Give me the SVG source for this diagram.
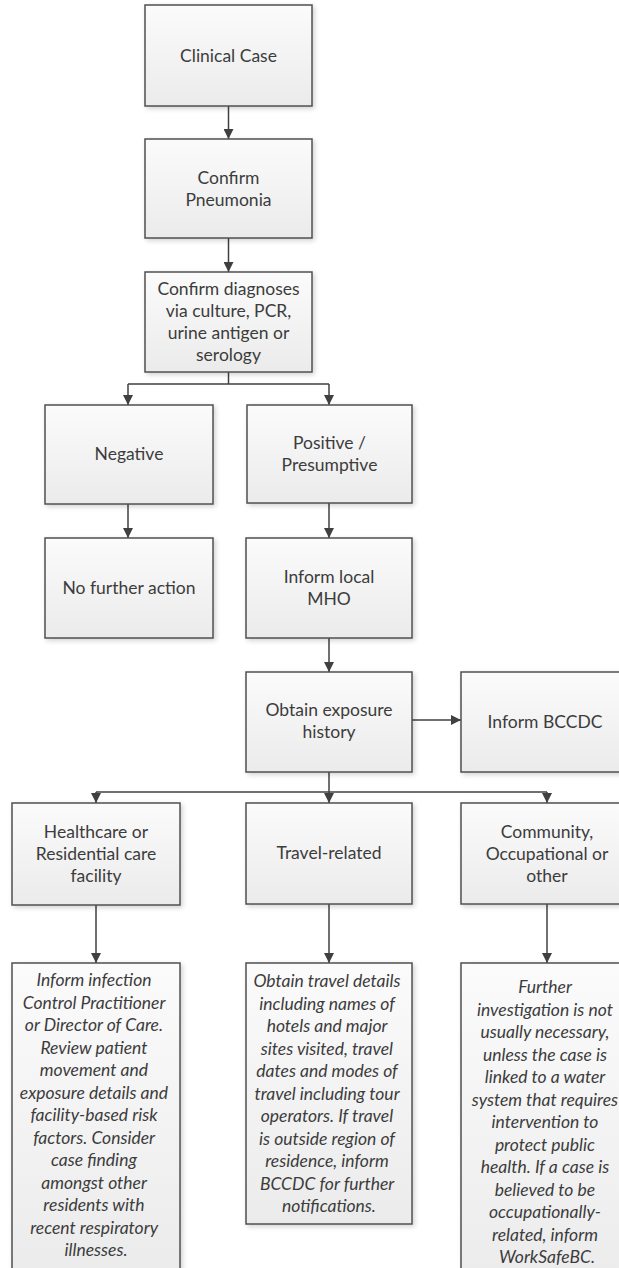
<svg xmlns="http://www.w3.org/2000/svg" width="619" height="1268" viewBox="0 0 619 1268">
<style>
.box{fill:url(#g);stroke:#505050;stroke-width:1.5;filter:url(#sh)}
.t{font-family:Lato,"Liberation Sans",sans-serif;font-size:17.5px;fill:#3c3c3c;text-anchor:middle}
.i{font-style:italic}
.c{fill:none;stroke:#404040;stroke-width:1.5}
.a{fill:none;stroke:#404040;stroke-width:1.5;marker-end:url(#ah)}
</style>
<defs>
<linearGradient id="g" x1="0" y1="0" x2="0" y2="1">
<stop offset="0" stop-color="#fbfbfb"/>
<stop offset="1" stop-color="#ebebeb"/>
</linearGradient>
<filter id="sh" x="-10%" y="-10%" width="125%" height="125%">
<feGaussianBlur in="SourceAlpha" stdDeviation="2.5"/>
<feOffset dx="2" dy="2" result="b"/>
<feComponentTransfer><feFuncA type="linear" slope="0.18"/></feComponentTransfer>
<feMerge><feMergeNode/><feMergeNode in="SourceGraphic"/></feMerge>
</filter>
<marker id="ah" viewBox="0 0 10 10" refX="10" refY="5" markerWidth="10" markerHeight="10" markerUnits="userSpaceOnUse" orient="auto">
<path d="M0,0 L10,5 L0,10 z" fill="#404040"/>
</marker>
</defs>
<rect width="619" height="1268" fill="#ffffff"/>

<g id="connectors">
<path class="a" d="M228.5,106 V139"/>
<path class="a" d="M228.5,238 V272"/>
<path class="c" d="M228.5,372 V384 M128,384 H329"/>
<path class="a" d="M128,384 V405"/>
<path class="a" d="M329,384 V405"/>
<path class="a" d="M128,504 V538"/>
<path class="a" d="M329,503 V538"/>
<path class="a" d="M329,638 V672"/>
<path class="a" d="M412,720 H461"/>
<path class="c" d="M96,792 H547"/>
<path class="a" d="M329,772 V803"/>
<path class="a" d="M96,792 V803"/>
<path class="a" d="M547,792 V803"/>
<path class="a" d="M96,905 V963"/>
<path class="a" d="M329,904 V963"/>
<path class="a" d="M547,904 V963"/>
</g>

<g id="clinical-case">
<rect class="box" x="145" y="5" width="167" height="101"/>
<text class="t" x="228.5" y="62">Clinical Case</text>
</g>
<g id="confirm-pneumonia">
<rect class="box" x="145" y="139" width="167" height="99"/>
<text class="t" x="228.5" y="184">Confirm</text>
<text class="t" x="228.5" y="206">Pneumonia</text>
</g>
<g id="confirm-diagnoses">
<rect class="box" x="145" y="272" width="167" height="100"/>
<text class="t" x="228.5" y="295">Confirm diagnoses</text>
<text class="t" x="228.5" y="317">via culture, PCR,</text>
<text class="t" x="228.5" y="339">urine antigen or</text>
<text class="t" x="228.5" y="361">serology</text>
</g>
<g id="negative">
<rect class="box" x="45" y="405" width="168" height="99"/>
<text class="t" x="129" y="460">Negative</text>
</g>
<g id="positive">
<rect class="box" x="247" y="405" width="165" height="98"/>
<text class="t" x="329.5" y="449">Positive /</text>
<text class="t" x="329.5" y="471">Presumptive</text>
</g>
<g id="no-further-action">
<rect class="box" x="45" y="538" width="168" height="100"/>
<text class="t" x="129" y="594">No further action</text>
</g>
<g id="inform-mho">
<rect class="box" x="246" y="538" width="166" height="100"/>
<text class="t" x="329" y="583">Inform local</text>
<text class="t" x="329" y="605">MHO</text>
</g>
<g id="obtain-exposure">
<rect class="box" x="246" y="672" width="166" height="100"/>
<text class="t" x="329" y="716">Obtain exposure</text>
<text class="t" x="329" y="738">history</text>
</g>
<g id="inform-bccdc">
<rect class="box" x="461" y="672" width="168" height="100"/>
<text class="t" x="545" y="728">Inform BCCDC</text>
</g>
<g id="healthcare">
<rect class="box" x="12" y="803" width="168" height="102"/>
<text class="t" x="96" y="838">Healthcare or</text>
<text class="t" x="96" y="860">Residential care</text>
<text class="t" x="96" y="882">facility</text>
</g>
<g id="travel">
<rect class="box" x="246" y="803" width="166" height="101"/>
<text class="t" x="329" y="859">Travel-related</text>
</g>
<g id="community">
<rect class="box" x="461" y="803" width="172" height="101"/>
<text class="t" x="547" y="838">Community,</text>
<text class="t" x="547" y="860">Occupational or</text>
<text class="t" x="547" y="882">other</text>
</g>
<g id="healthcare-action">
<rect class="box" x="12" y="963" width="168" height="312"/>
<text class="t i" x="96" y="986">
<tspan x="96">Inform infection</tspan>
<tspan x="96" dy="22.5">Control Practitioner</tspan>
<tspan x="96" dy="22.5">or Director of Care.</tspan>
<tspan x="96" dy="22.5">Review patient</tspan>
<tspan x="96" dy="22.5">movement and</tspan>
<tspan x="96" dy="22.5">exposure details and</tspan>
<tspan x="96" dy="22.5">facility-based risk</tspan>
<tspan x="96" dy="22.5">factors. Consider</tspan>
<tspan x="96" dy="22.5">case finding</tspan>
<tspan x="96" dy="22.5">amongst other</tspan>
<tspan x="96" dy="22.5">residents with</tspan>
<tspan x="96" dy="22.5">recent respiratory</tspan>
<tspan x="96" dy="22.5">illnesses.</tspan>
</text>
</g>
<g id="travel-action">
<rect class="box" x="246" y="963" width="166" height="261"/>
<text class="t i" x="329" y="987">
<tspan x="329">Obtain travel details</tspan>
<tspan x="329" dy="22.5">including names of</tspan>
<tspan x="329" dy="22.5">hotels and major</tspan>
<tspan x="329" dy="22.5">sites visited, travel</tspan>
<tspan x="329" dy="22.5">dates and modes of</tspan>
<tspan x="329" dy="22.5">travel including tour</tspan>
<tspan x="329" dy="22.5">operators. If travel</tspan>
<tspan x="329" dy="22.5">is outside region of</tspan>
<tspan x="329" dy="22.5">residence, inform</tspan>
<tspan x="329" dy="22.5">BCCDC for further</tspan>
<tspan x="329" dy="22.5">notifications.</tspan>
</text>
</g>
<g id="community-action">
<rect class="box" x="461" y="963" width="172" height="330"/>
<text class="t i" x="547" y="993">
<tspan x="547">Further</tspan>
<tspan x="547" dy="22.5">investigation is not</tspan>
<tspan x="547" dy="22.5">usually necessary,</tspan>
<tspan x="547" dy="22.5">unless the case is</tspan>
<tspan x="547" dy="22.5">linked to a water</tspan>
<tspan x="547" dy="22.5">system that requires</tspan>
<tspan x="547" dy="22.5">intervention to</tspan>
<tspan x="547" dy="22.5">protect public</tspan>
<tspan x="547" dy="22.5">health. If a case is</tspan>
<tspan x="547" dy="22.5">believed to be</tspan>
<tspan x="547" dy="22.5">occupationally-</tspan>
<tspan x="547" dy="22.5">related, inform</tspan>
<tspan x="547" dy="22.5">WorkSafeBC.</tspan>
</text>
</g>
</svg>
